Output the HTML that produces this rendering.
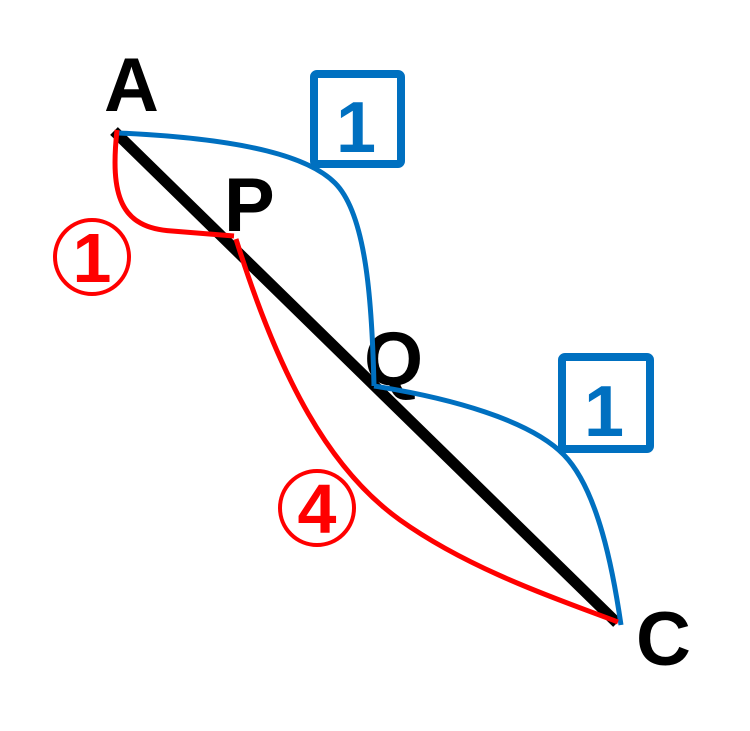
<!DOCTYPE html>
<html><head><meta charset="utf-8"><style>
html,body{margin:0;padding:0;background:#fff;width:750px;height:731px;overflow:hidden}
</style></head><body>
<svg width="750" height="731" viewBox="0 0 750 731" xmlns="http://www.w3.org/2000/svg">
<rect width="750" height="731" fill="#fff"/>
<g font-family="Liberation Sans, sans-serif" font-weight="bold" fill="#000" font-size="76">
<text x="104" y="111">A</text>
<text x="224" y="231">P</text>
<text x="364" y="385">Q</text>
<text x="636" y="665">C</text>
</g>
<line x1="114" y1="131" x2="617" y2="623" stroke="#000" stroke-width="11"/>
<g fill="none" stroke="#0070c0" stroke-width="5">
<path d="M119,133 C250,139 310,158 335,183 C366,214 372,300 374,386"/>
<path d="M374,386 C450,398 530,420 564,455 C598,490 613,570 621,625"/>
</g>
<g fill="none" stroke="#ff0000" stroke-width="5">
<path d="M117,130 C110,195 120,228 172,231 L234,236"/>
<path d="M236,239 C280,380 330,470 400,520 C470,570 560,600 618,622"/>
</g>
<g fill="none" stroke="#0070c0" stroke-width="8">
<rect x="314" y="74" width="87" height="90" rx="3"/>
<rect x="562" y="357" width="88" height="92" rx="3"/>
</g>
<g font-family="Liberation Sans, sans-serif" font-weight="bold" fill="#0070c0" font-size="72" text-anchor="middle">
<text x="356" y="152">1</text>
<text x="604" y="436">1</text>
</g>
<g fill="none" stroke="#ff0000" stroke-width="4">
<circle cx="92" cy="257" r="37"/>
<circle cx="317" cy="508" r="37"/>
</g>
<g font-family="Liberation Sans, sans-serif" font-weight="bold" fill="#ff0000" font-size="70" text-anchor="middle">
<text x="92" y="282">1</text>
<text x="317" y="533">4</text>
</g>
</svg>
</body></html>
